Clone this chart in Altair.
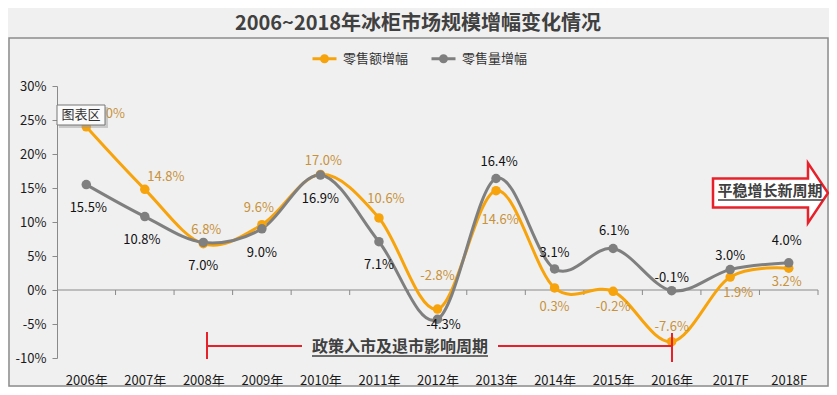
import json
import altair as alt
import pandas as pd

# ---------------- data ----------------
categories = ["2006年", "2007年", "2008年", "2009年", "2010年", "2011年", "2012年",
              "2013年", "2014年", "2015年", "2016年", "2017F", "2018F"]
series_names = ["零售额增幅", "零售量增幅"]
retail_value_growth = [24.0, 14.8, 6.8, 9.6, 17.0, 10.6, -2.8, 14.6, 0.3, -0.2, -7.6, 1.9, 3.2]
retail_volume_growth = [15.5, 10.8, 7.0, 9.0, 16.9, 7.1, -4.3, 16.4, 3.1, 6.1, -0.1, 3.0, 4.0]
y_ticks = [-10, -5, 0, 5, 10, 15, 20, 25, 30]

title_text = "2006~2018年冰柜市场规模增幅变化情况"
note_policy = "政策入市及退市影响周期"
note_stable = "平稳增长新周期"
tooltip_text = "图表区"

# ---------------- style ----------------
FONT = "Noto Sans CJK SC"
ORANGE = "#F7A30C"
GREY = "#7F7F7F"
ORANGE_LABEL = "#C8923A"
BLACK_LABEL = "#111111"
DARK = "#404040"
RED = "#E8202A"
AXIS_GREY = "#8A8A8A"

W, H = 761, 272
n = len(categories)
px_x = W / n
px_y = H / (y_ticks[-1] - y_ticks[0])

# label offsets in pixels (placement of value labels relative to their point)
value_dx = [20, 21, 3, -3, 3, 7, 0, 4, 0, 0, 0, 8, -2]
value_dy = [-13, -12, -14, -17, -13, -19, -33, 29, 19, 16, -15, 16, 14]
volume_dx = [2, -3, 0, 0, 0, 0, 6, 3, 0, 1, 0, 0, -2]
volume_dy = [23, 23, 24, 24, 24, 23, 6, -16, -16, -18, -13, -14, -22]

rows = []
for s, vals, dxs, dys in [(series_names[0], retail_value_growth, value_dx, value_dy),
                          (series_names[1], retail_volume_growth, volume_dx, volume_dy)]:
    for i, v in enumerate(vals):
        rows.append({"series": s, "idx": i, "value": v,
                     "lx": i + dxs[i] / px_x, "ly": v - dys[i] / px_y,
                     "label": f"{v:.1f}%"})
df = pd.DataFrame(rows)

cat_expr = json.dumps(categories, ensure_ascii=False) + "[datum.value]"

x_scale = alt.Scale(domain=[-0.5, n - 0.5], nice=False, zero=False)
x_axis = alt.Axis(values=list(range(n)), labelExpr=cat_expr, ticks=False, tickSize=0,
                  domain=False, grid=False, title=None, labelPadding=16,
                  labelFontSize=13, labelColor="#1a1a1a", labelFont=FONT,
                  labelOverlap=False)
y_scale = alt.Scale(domain=[y_ticks[0], y_ticks[-1]], nice=False, zero=False)
y_axis = alt.Axis(values=y_ticks, labelExpr="datum.value + '%'", grid=False,
                  domain=True, domainColor=AXIS_GREY, ticks=True, tickSize=5,
                  tickColor=AXIS_GREY, title=None, labelPadding=6,
                  labelFontSize=13, labelColor="#1a1a1a", labelFont=FONT,
                  labelOverlap=False, tickCount=len(y_ticks))


def X(field):
    return alt.X(field, scale=x_scale, axis=x_axis)


def Y(field):
    return alt.Y(field, scale=y_scale, axis=y_axis)


legend_symbol = ("M-1,0L1,0M-0.25,0A0.25,0.25,0,1,1,0.25,0A0.25,0.25,0,1,1,-0.25,0Z")
legend = alt.Legend(orient="none", legendX=254, legendY=-41, direction="horizontal",
                    title=None, symbolType=legend_symbol, symbolSize=576,
                    symbolStrokeWidth=3, labelFontSize=13, labelFont=FONT,
                    labelColor="#333333", columnPadding=16, labelOffset=5, padding=0)
color = alt.Color("series:N", scale=alt.Scale(domain=series_names, range=[ORANGE, GREY]),
                  legend=legend)

base = alt.Chart(df)

lines = base.mark_line(strokeWidth=3, interpolate="cardinal").encode(
    x=X("idx:Q"), y=Y("value:Q"), color=color, order=alt.Order("idx:Q"))
points = base.mark_circle(size=90, opacity=1).encode(
    x=X("idx:Q"), y=Y("value:Q"), color=color)

text_style = dict(fontSize=13, font=FONT, align="center", baseline="middle")
labels_value = base.transform_filter(alt.datum.series == series_names[0]).mark_text(
    color=ORANGE_LABEL, **text_style).encode(x=X("lx:Q"), y=Y("ly:Q"), text="label:N")
labels_volume = base.transform_filter(alt.datum.series == series_names[1]).mark_text(
    color=BLACK_LABEL, **text_style).encode(x=X("lx:Q"), y=Y("ly:Q"), text="label:N")

# zero line with category separators
zero_df = pd.DataFrame({"x": [-0.5], "x2": [n - 0.5], "y": [0]})
zero_line = alt.Chart(zero_df).mark_rule(color=AXIS_GREY, strokeWidth=1).encode(
    x=X("x:Q"), x2="x2:Q", y=Y("y:Q"))
tick_df = pd.DataFrame({"x": [k + 0.5 for k in range(n)], "y": [0] * n,
                        "y2": [-5 / px_y] * n})
tick_marks = alt.Chart(tick_df).mark_rule(color=AXIS_GREY, strokeWidth=1).encode(
    x=X("x:Q"), y=Y("y:Q"), y2="y2:Q")

one = pd.DataFrame({"a": [0]})

border = alt.Chart(one).mark_rect(fillOpacity=0, stroke="#8C8C8C", strokeWidth=1.5).encode(
    x=alt.value(-48), x2=alt.value(771), y=alt.value(-48), y2=alt.value(300))

title = alt.Chart(one).mark_text(text=title_text, font=FONT, fontSize=20, fontWeight="bold",
                                 color=DARK, align="center", baseline="middle").encode(
    x=alt.value(361), y=alt.value(-62))

# policy period bracket
red_rule = dict(color=RED, strokeWidth=2)
b1 = alt.Chart(one).mark_rule(**red_rule).encode(x=alt.value(150), y=alt.value(246), y2=alt.value(273))
b2 = alt.Chart(one).mark_rule(**red_rule).encode(x=alt.value(150), x2=alt.value(245), y=alt.value(260))
b3 = alt.Chart(one).mark_rule(**red_rule).encode(x=alt.value(441), x2=alt.value(615), y=alt.value(260))
b4 = alt.Chart(one).mark_rule(**red_rule).encode(x=alt.value(615), y=alt.value(247), y2=alt.value(276))
policy_text = alt.Chart(one).mark_text(text=note_policy, font=FONT, fontSize=16, fontWeight="bold",
                                       color=DARK, align="center", baseline="middle").encode(
    x=alt.value(343), y=alt.value(261))
policy_ul = alt.Chart(one).mark_rule(color=DARK, strokeWidth=1.5).encode(
    x=alt.value(255), x2=alt.value(431), y=alt.value(270))

# stable growth arrow
arrow_path = ("M-1,-0.252L0.652,-0.252L0.652,-0.52L1,0L0.652,0.52L0.652,0.252L-1,0.252Z")
arrow = alt.Chart(one).mark_point(shape=arrow_path, size=13225, fill="white", fillOpacity=1,
                                  stroke=RED, strokeWidth=2.5, opacity=1).encode(
    x=alt.value(713.5), y=alt.value(107))
stable_text = alt.Chart(one).mark_text(text=note_stable, font=FONT, fontSize=15, fontWeight="bold",
                                       color=DARK, align="center", baseline="middle").encode(
    x=alt.value(713), y=alt.value(105))
stable_ul = alt.Chart(one).mark_rule(color=DARK, strokeWidth=1.5).encode(
    x=alt.value(661), x2=alt.value(766), y=alt.value(114))

# "chart area" hover tip seen in the screenshot
tip_shadow = alt.Chart(one).mark_rect(fill="#9A9A9A", opacity=0.45).encode(
    x=alt.value(2), x2=alt.value(51), y=alt.value(21), y2=alt.value(42))
tip_box = alt.Chart(one).mark_rect(fill="#FAFAFA", stroke="#767676", strokeWidth=1).encode(
    x=alt.value(0), x2=alt.value(48), y=alt.value(19), y2=alt.value(39))
tip_text = alt.Chart(one).mark_text(text=tooltip_text, font=FONT, fontSize=13, color="#333333",
                                    align="center", baseline="middle").encode(
    x=alt.value(24), y=alt.value(29))

chart = alt.layer(
    border, title, zero_line, tick_marks, lines, points, labels_value, labels_volume,
    b1, b2, b3, b4, policy_text, policy_ul, arrow, stable_text, stable_ul,
    tip_shadow, tip_box, tip_text
).properties(
    width=W, height=H,
    autosize=alt.AutoSizeParams(type="none"),
    padding={"left": 49, "top": 78, "right": 11, "bottom": 29},
    background="#F0F0F0",
).configure_view(stroke=None)

chart.save("out.html", embed_options={"renderer": "svg", "actions": False})
